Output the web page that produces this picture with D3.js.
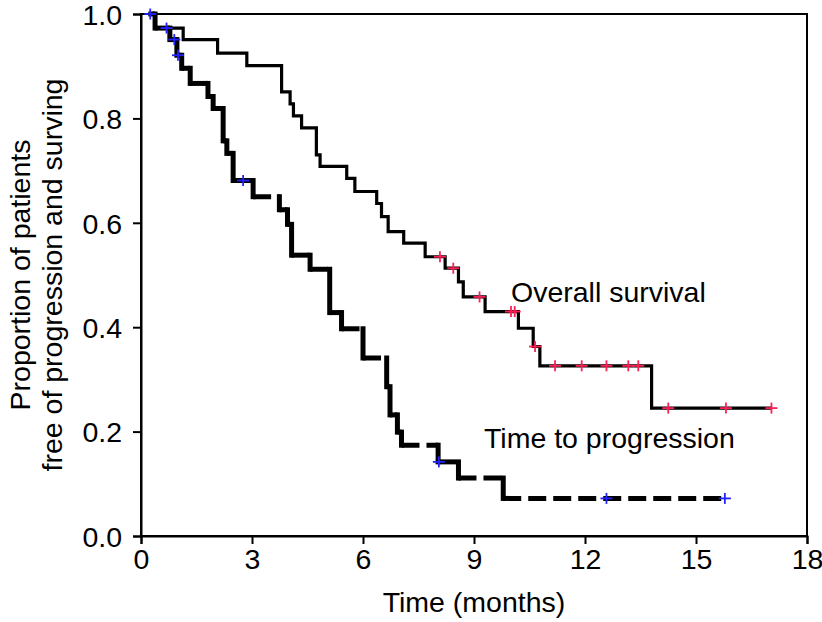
<!DOCTYPE html>
<html><head><meta charset="utf-8">
<script src="https://cdn.jsdelivr.net/npm/d3@7/dist/d3.min.js"></script>
<style>body{margin:0;background:#fff}svg{display:block}</style>
</head><body><svg id="c" width="822" height="622"></svg>
<script>
const xTicks = [0, 3, 6, 9, 12, 15, 18];
const yTicks = [0, 0.2, 0.4, 0.6, 0.8, 1.0];

// Time to progression (step times in months, proportion after each step)
const ttpTimes = [0.2, 0.38, 0.78, 0.97, 1.1, 1.33, 1.81, 1.95, 2.22, 2.32, 2.49, 3.03, 3.74, 3.96, 4.07, 4.57, 5.1, 5.42, 6.0, 6.64, 6.73, 6.93, 7.04, 8.03, 8.58, 9.79, 15.78];
const ttpSurv  = [1.0, 0.973, 0.951, 0.921, 0.896, 0.867, 0.842, 0.819, 0.757, 0.733, 0.681, 0.65, 0.625, 0.597, 0.538, 0.511, 0.428, 0.397, 0.341, 0.286, 0.232, 0.199, 0.174, 0.142, 0.111, 0.072, 0.072];
const ttpCensorTimes = [0.25, 0.69, 0.9, 1.0, 2.76, 8.05, 12.58, 15.78];
const ttpCensorSurv  = [1.0, 0.973, 0.951, 0.921, 0.681, 0.142, 0.072, 0.072];

// Overall survival
const osTimes = [0.2, 0.38, 1.14, 2.07, 2.86, 3.8, 4.03, 4.12, 4.34, 4.74, 4.84, 5.56, 5.78, 6.37, 6.5, 6.68, 7.1, 7.68, 8.22, 8.58, 8.71, 9.3, 10.2, 10.6, 10.78, 13.8, 17.04];
const osSurv  = [1.0, 0.973, 0.951, 0.925, 0.901, 0.851, 0.828, 0.805, 0.782, 0.73, 0.708, 0.685, 0.66, 0.637, 0.612, 0.583, 0.561, 0.535, 0.513, 0.487, 0.458, 0.43, 0.398, 0.363, 0.326, 0.245, 0.245];
const osCensorTimes = [8.08, 8.44, 9.15, 10.0, 10.1, 10.65, 11.19, 11.91, 12.58, 13.17, 13.44, 14.25, 15.81, 17.04];
const osCensorSurv  = [0.535, 0.513, 0.458, 0.43, 0.43, 0.363, 0.326, 0.326, 0.326, 0.326, 0.326, 0.245, 0.245, 0.245];

const labels = ["Overall survival", "Time to progression"];
const xTitle = "Time (months)";
const yTitle = ["Proportion of patients", "free of progression and surving"];

const FONT = '"Liberation Sans", Arial, Helvetica, sans-serif';
const FS = 28.5;
const W = 822, H = 622;
const x = d3.scaleLinear().domain([0, 18]).range([141, 807]);
const y = d3.scaleLinear().domain([0, 1]).range([536, 14]);
const svg = d3.select('#c');
svg.append('rect').attr('width', W).attr('height', H).attr('fill', '#fff');

// frame
svg.append('rect').attr('x', x(0)).attr('y', y(1)).attr('width', x(18) - x(0)).attr('height', y(0) - y(1))
  .attr('fill', 'none').attr('stroke', '#000').attr('stroke-width', 2);

const xa = svg.append('g').attr('transform', `translate(0,${y(0)})`)
  .call(d3.axisBottom(x).tickValues(xTicks).tickSize(8).tickPadding(5).tickFormat(d3.format('d')));
const ya = svg.append('g').attr('transform', `translate(${x(0)},0)`)
  .call(d3.axisLeft(y).tickValues(yTicks).tickSize(8).tickPadding(11).tickFormat(d3.format('.1f')));
[xa, ya].forEach(g => {
  g.attr('font-family', FONT).attr('font-size', FS);
  g.select('.domain').attr('stroke-width', 2);
  g.selectAll('.tick line').attr('stroke-width', 2);
  g.selectAll('.tick text').attr('fill', '#000');
});
ya.selectAll('.tick text').attr('dy', '0.36em');

// Overall survival: solid thin step line
const osPts = osTimes.map((t, i) => [t, osSurv[i]]);
svg.append('path').datum(osPts)
  .attr('d', d3.line().x(d => x(d[0])).y(d => y(d[1])).curve(d3.curveStepAfter))
  .attr('fill', 'none').attr('stroke', '#000').attr('stroke-width', 3.2).attr('stroke-linejoin', 'miter');

// Time to progression: thick, horizontal pieces dashed individually
const gT = svg.append('g');
for (let i = 0; i < ttpTimes.length - 1; i++) {
  gT.append('line')
    .attr('x1', x(ttpTimes[i])).attr('x2', x(ttpTimes[i + 1]))
    .attr('y1', y(ttpSurv[i])).attr('y2', y(ttpSurv[i]))
    .attr('stroke', '#000').attr('stroke-width', 5).attr('stroke-dasharray', '18,7');
  if (ttpSurv[i + 1] !== ttpSurv[i]) {
    gT.append('line')
      .attr('x1', x(ttpTimes[i + 1])).attr('x2', x(ttpTimes[i + 1]))
      .attr('y1', y(ttpSurv[i])).attr('y2', y(ttpSurv[i + 1]))
      .attr('stroke', '#000').attr('stroke-width', 5).attr('stroke-linecap', 'square');
  }
}

// censor marks
function crosses(times, surv, color) {
  const g = svg.append('g').attr('stroke', color).attr('stroke-width', 1.8);
  times.forEach((t, i) => {
    const cx = x(t), cy = y(surv[i]);
    g.append('line').attr('x1', cx - 6).attr('x2', cx + 6).attr('y1', cy).attr('y2', cy);
    g.append('line').attr('x1', cx).attr('x2', cx).attr('y1', cy - 5.5).attr('y2', cy + 5.5);
  });
}
crosses(osCensorTimes, osCensorSurv, '#ff1f55');
crosses(ttpCensorTimes, ttpCensorSurv, '#2222ff');

// curve labels
svg.append('text').attr('x', x(10.0)).attr('y', y(0.449)).text(labels[0])
  .attr('font-family', FONT).attr('font-size', FS).attr('fill', '#000');
svg.append('text').attr('x', x(9.27)).attr('y', y(0.168)).text(labels[1])
  .attr('font-family', FONT).attr('font-size', FS).attr('fill', '#000');

// axis titles
svg.append('text').attr('x', (x(0) + x(18)) / 2).attr('y', 612).attr('text-anchor', 'middle')
  .attr('font-family', FONT).attr('font-size', FS).text(xTitle);
yTitle.forEach((s, i) => {
  svg.append('text').attr('transform', `translate(${30 + i * 32},${(y(0) + y(1)) / 2}) rotate(-90)`)
    .attr('text-anchor', 'middle').attr('font-family', FONT).attr('font-size', FS).text(s);
});
</script></body></html>
